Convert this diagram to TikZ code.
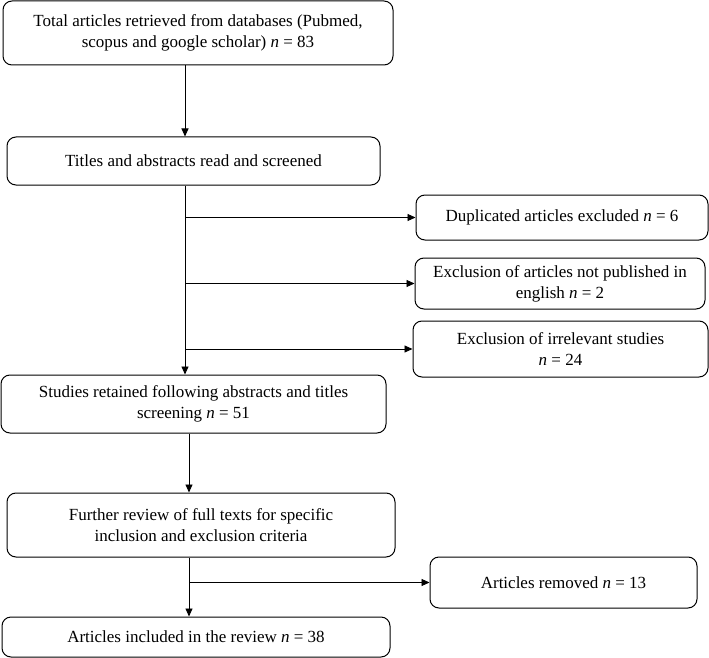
\documentclass[tikz,border=0pt]{standalone}
\usepackage{fontspec}
\setmainfont{Liberation Serif}
\usetikzlibrary{arrows.meta}
\tikzset{
  box/.style={draw, rounded corners=9pt, line width=1pt, align=center, inner sep=0pt,
    font=\fontsize{17}{21}\selectfont},
  arrow/.style={line width=0.9pt, -{Triangle[length=8pt,width=7pt]}},
}
\newcommand{\nval}[1]{\textit{n}~=~#1}
\begin{document}
\begin{tikzpicture}[x=1pt,y=-1pt]
\useasboundingbox (0,0) rectangle (709,658);
\node[box, minimum width=390pt, minimum height=64pt] (total) at (198,33) {Total articles retrieved from databases (Pubmed,\\scopus and google scholar) \nval{83}};
\node[box, minimum width=373pt, minimum height=48pt] (titles) at (193.5,161) {Titles and abstracts read and screened};
\node[box, minimum width=292pt, minimum height=45pt] (dup) at (562,217.5) {Duplicated articles excluded \nval{6}};
\node[box, minimum width=290pt, minimum height=51pt] (eng) at (560,283.5) {Exclusion of articles not published in\\english \nval{2}};
\node[box, minimum width=295pt, minimum height=56pt] (irr) at (560.5,349) {Exclusion of irrelevant studies\\\nval{24}};
\node[box, minimum width=385pt, minimum height=58pt] (studies) at (193.5,404) {Studies retained following abstracts and titles\\screening \nval{51}};
\node[box, minimum width=388pt, minimum height=64pt] (further) at (201,525) {Further review of full texts for specific\\inclusion and exclusion criteria};
\node[box, minimum width=267pt, minimum height=51pt] (removed) at (563.5,582.5) {Articles removed \nval{13}};
\node[box, minimum width=388pt, minimum height=40pt] (incl) at (196,637) {Articles included in the review \nval{38}};
% spines
\coordinate (s1) at (185,0);
\coordinate (s2) at (189,0);
\draw[arrow] (total.south -| s1) -- (titles.north -| s1);
\draw[arrow] (titles.south -| s1) -- (studies.north -| s1);
\draw[arrow] (dup.west -| s1) -- (dup.west);
\draw[arrow] (eng.west -| s1) -- (eng.west);
\draw[arrow] (irr.west -| s1) -- (irr.west);
\draw[arrow] (studies.south -| s2) -- (further.north -| s2);
\draw[arrow] (further.south -| s2) -- (incl.north -| s2);
\draw[arrow] (removed.west -| s2) -- (removed.west);
\end{tikzpicture}
\end{document}
